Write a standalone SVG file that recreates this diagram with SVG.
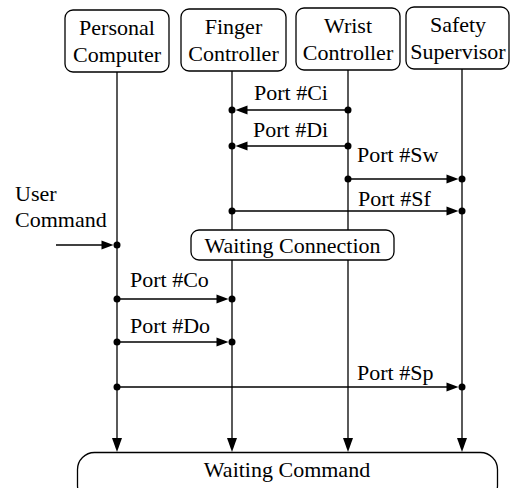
<svg xmlns="http://www.w3.org/2000/svg" width="511" height="488" viewBox="0 0 511 488">
<rect x="0" y="0" width="511" height="488" fill="#fff"/>
<g id="connectors" stroke="#000" stroke-width="1.3" fill="none">
<line x1="117" y1="72" x2="117" y2="440"/>
<line x1="232" y1="71" x2="232" y2="440"/>
<line x1="348" y1="70" x2="348" y2="440"/>
<line x1="462" y1="69" x2="462" y2="440"/>
<line x1="348" y1="110" x2="240" y2="110"/>
<line x1="348" y1="146" x2="240" y2="146"/>
<line x1="348" y1="179" x2="450" y2="179"/>
<line x1="232" y1="211" x2="450" y2="211"/>
<line x1="56" y1="245" x2="105" y2="245"/>
<line x1="117" y1="299" x2="220" y2="299"/>
<line x1="117" y1="342" x2="220" y2="342"/>
<line x1="117" y1="387" x2="450" y2="387"/>
</g>
<g id="arrowheads" fill="#000" stroke="none">
<polygon points="112,438 122,438 117,452"/>
<polygon points="227,438 237,438 232,452"/>
<polygon points="343,438 353,438 348,452"/>
<polygon points="457,438 467,438 462,452"/>
<polygon points="235.5,110 247.5,105.5 247.5,114.5"/>
<polygon points="235.5,146 247.5,141.5 247.5,150.5"/>
<polygon points="458.5,179 446.5,174.5 446.5,183.5"/>
<polygon points="458.5,211 446.5,206.5 446.5,215.5"/>
<polygon points="113.5,245 101.5,240.5 101.5,249.5"/>
<polygon points="228.5,299 216.5,294.5 216.5,303.5"/>
<polygon points="228.5,342 216.5,337.5 216.5,346.5"/>
<polygon points="458.5,387 446.5,382.5 446.5,391.5"/>
</g>
<g id="dots" fill="#000">
<circle cx="348" cy="110" r="3.5"/><circle cx="232" cy="110" r="3.5"/>
<circle cx="348" cy="146" r="3.5"/><circle cx="232" cy="146" r="3.5"/>
<circle cx="348" cy="179" r="3.5"/><circle cx="462" cy="179" r="3.5"/>
<circle cx="232" cy="211" r="3.5"/><circle cx="462" cy="211" r="3.5"/>
<circle cx="117" cy="245" r="3.5"/>
<circle cx="117" cy="299" r="3.5"/><circle cx="232" cy="299" r="3.5"/>
<circle cx="117" cy="342" r="3.5"/><circle cx="232" cy="342" r="3.5"/>
<circle cx="117" cy="387" r="3.5"/><circle cx="462" cy="387" r="3.5"/>
</g>
<g id="pc">
<rect x="65" y="10" width="104" height="62" rx="8" fill="#fff" stroke="#000" stroke-width="1.3"/>
<text font-family="Liberation Serif" font-size="22" text-anchor="middle" x="117" y="35">Personal</text>
<text font-family="Liberation Serif" font-size="22" text-anchor="middle" x="117" y="62">Computer</text>
</g>
<g id="fc">
<rect x="181" y="9" width="105" height="62" rx="8" fill="#fff" stroke="#000" stroke-width="1.3"/>
<text font-family="Liberation Serif" font-size="22" text-anchor="middle" x="233.5" y="34">Finger</text>
<text font-family="Liberation Serif" font-size="22" text-anchor="middle" x="233.5" y="61">Controller</text>
</g>
<g id="wc">
<rect x="296" y="8" width="104" height="62" rx="8" fill="#fff" stroke="#000" stroke-width="1.3"/>
<text font-family="Liberation Serif" font-size="22" text-anchor="middle" x="348" y="33">Wrist</text>
<text font-family="Liberation Serif" font-size="22" text-anchor="middle" x="348" y="60">Controller</text>
</g>
<g id="ss">
<rect x="406" y="7" width="103" height="62" rx="8" fill="#fff" stroke="#000" stroke-width="1.3"/>
<text font-family="Liberation Serif" font-size="22" text-anchor="middle" x="458" y="32">Safety</text>
<text font-family="Liberation Serif" font-size="22" text-anchor="middle" x="458" y="59">Supervisor</text>
</g>
<g id="labels">
<text font-family="Liberation Serif" font-size="22" x="254" y="100">Port #Ci</text>
<text font-family="Liberation Serif" font-size="22" x="253" y="137">Port #Di</text>
<text font-family="Liberation Serif" font-size="22" x="357" y="162">Port #Sw</text>
<text font-family="Liberation Serif" font-size="22" x="358" y="206">Port #Sf</text>
<text font-family="Liberation Serif" font-size="22" x="15" y="201">User</text>
<text font-family="Liberation Serif" font-size="22" x="15" y="227">Command</text>
<text font-family="Liberation Serif" font-size="22" x="130" y="287">Port #Co</text>
<text font-family="Liberation Serif" font-size="22" x="130" y="333">Port #Do</text>
<text font-family="Liberation Serif" font-size="22" x="357" y="380">Port #Sp</text>
</g>
<g id="waiting-connection">
<rect x="191" y="230" width="203" height="30" rx="8" fill="#fff" stroke="#000" stroke-width="1.3"/>
<text font-family="Liberation Serif" font-size="22" text-anchor="middle" x="292.5" y="253">Waiting Connection</text>
</g>
<g id="waiting-command">
<rect x="77.5" y="452.5" width="420" height="50" rx="17" fill="#fff" stroke="#000" stroke-width="1.3"/>
<text font-family="Liberation Serif" font-size="22" text-anchor="middle" x="287" y="477">Waiting Command</text>
</g>
</svg>
